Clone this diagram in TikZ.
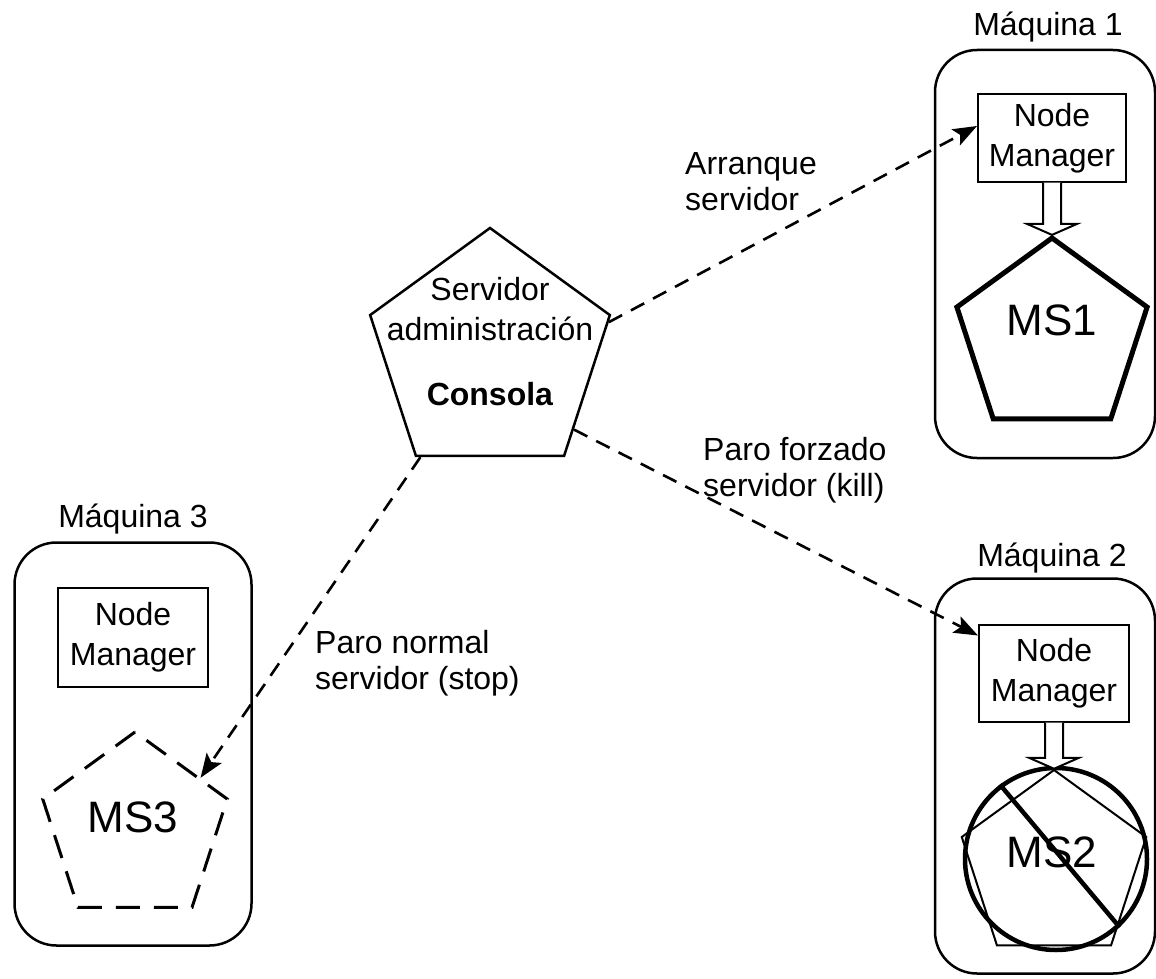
\documentclass[tikz,border=0pt]{standalone}
\usepackage{fontspec}
\setmainfont{Liberation Sans}
\usetikzlibrary{shapes.geometric,arrows.meta,calc}

\tikzset{
  maquina/.style={draw,line width=2.5pt,rounded corners=42pt,inner sep=0pt},
  manager/.style={draw,line width=2pt,inner sep=0pt,align=center,
    font=\fontsize{32}{40}\selectfont},
  servidor/.style={draw,regular polygon,regular polygon sides=5,inner sep=0pt},
  orden/.style={line width=2.6pt,dash pattern=on 15pt off 10pt,
    -{Stealth[length=24pt,width=18pt,inset=5pt]}},
  rotulo/.style={align=left,inner sep=0pt,font=\fontsize{32}{36}\selectfont},
  hueco/.style={line width=2pt,fill=white},
  nombre/.style={inner sep=0pt,anchor=base,font=\fontsize{32}{36}\selectfont},
  mstxt/.style={inner sep=0pt,font=\fontsize{44}{48}\selectfont}
}

\begin{document}
\begin{tikzpicture}[x=1pt,y=-1pt]

    \useasboundingbox (0,0) rectangle (1156,979);

    % maquinas
    \node[maquina,minimum width=220pt,minimum height=408pt] (m1) at (1045,254) {};
    \node[maquina,minimum width=220pt,minimum height=395pt] (m2) at (1045,776) {};
    \node[maquina,minimum width=237pt,minimum height=403pt] (m3) at (133,744) {};
    \node[nombre] (m1lbl) at (1048,36) {Máquina 1};
    \node[nombre] (m2lbl) at (1052,566) {Máquina 2};
    \node[nombre] (m3lbl) at (133,527) {Máquina 3};

    % node managers
    \node[manager,minimum width=148pt,minimum height=87pt] (nm1) at (1052,138) {Node\\Manager};
    \node[manager,minimum width=150pt,minimum height=97pt] (nm2) at (1054,673) {Node\\Manager};
    \node[manager,minimum width=150pt,minimum height=99pt] (nm3) at (133,637) {Node\\Manager};

    % servidores gestionados
    \node[servidor,line width=5pt,minimum size=200pt] (ms1) at (1052,338) {};
    \node[mstxt] (ms1txt) at (1052,320) {MS1};
    \node[servidor,line width=2pt,minimum size=194pt] (ms2) at (1054,867) {};
    \node[mstxt] (ms2txt) at (1052,852) {MS2};
    \node[draw,circle,line width=4.5pt,inner sep=0pt,minimum size=182pt] (prohibido) at (1056,859) {};
    \draw[line width=4.5pt] (prohibido.127) -- (prohibido.-47);
    \node[servidor,line width=3pt,dash pattern=on 24pt off 14pt,minimum size=194pt] (ms3) at (135,829) {};
    \node[mstxt] (ms3txt) at (133,817) {MS3};

    % flechas huecas
    \draw[hueco] ($(nm1.south)+(-9,0)$) -- ($(ms1.north)+(-9,-11)$) -- ++(-16,0) -- (ms1.north)
      -- ++(25,-11) -- ++(-16,0) -- ($(nm1.south)+(9,0)$);
    \draw[hueco] ($(nm2.south)+(-9,0)$) -- ($(ms2.north)+(-9,-11)$) -- ++(-16,0) -- (ms2.north)
      -- ++(25,-11) -- ++(-16,0) -- ($(nm2.south)+(9,0)$);

    % consola
    \node[servidor,line width=2.5pt,minimum size=252pt] (consola) at (490,354) {};
    \node[align=center,inner sep=0pt,anchor=north,font=\fontsize{32}{40}\selectfont]
      (consolatxt) at (490,277) {Servidor\\administración\\[25pt]\textbf{Consola}};

    \draw[orden] (consola.15) -- ([yshift=12pt]nm1.west);
    \draw[orden] (consola.-42) -- ([yshift=-12pt]nm2.north west);
    \draw[orden] (consola.236) -- (ms3.38);

    \node[rotulo,anchor=north west] (arranque) at (685,152) {Arranque\\servidor};
    \node[rotulo,anchor=north west] (kill) at (703,437) {Paro forzado\\servidor (kill)};
    \node[rotulo,anchor=north west] (stop) at (315,630) {Paro normal\\servidor (stop)};

\end{tikzpicture}
\end{document}
